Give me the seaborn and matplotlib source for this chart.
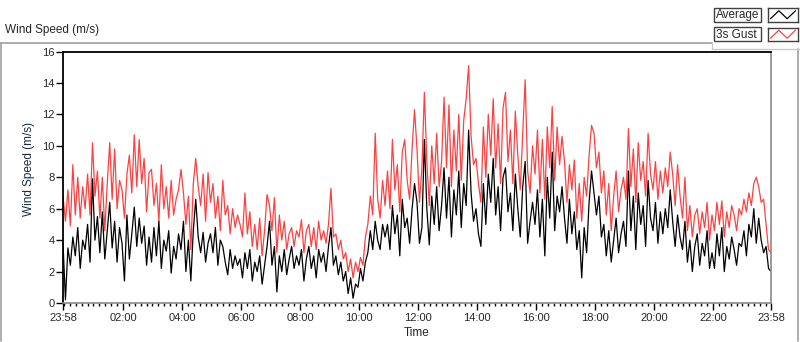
import pandas as pd
import matplotlib
matplotlib.use("Agg")
import matplotlib.pyplot as plt
import matplotlib.dates as mdates
from matplotlib.ticker import FixedLocator
from matplotlib.lines import Line2D
from matplotlib.patches import Rectangle
import seaborn as sns

# 5-minute samples from 23:58 to 23:58 next day
avg_speed = [
    3.8, 0.2, 3.5, 2.4, 4.2, 3.0, 4.8, 2.2, 4.0, 3.4, 5.0, 2.6,
    7.9, 4.0, 5.5, 3.2, 5.8, 2.8, 4.6, 6.4, 3.5, 5.2, 2.6, 4.8,
    3.8, 1.4, 5.6, 2.8, 4.4, 6.1, 3.6, 5.4, 3.8, 4.9, 2.4, 4.2,
    2.6, 4.8, 3.0, 5.2, 2.2, 4.0, 3.3, 4.6, 1.9, 3.6, 2.8, 4.4,
    3.4, 5.2, 2.0, 4.0, 1.4, 4.6, 6.6, 4.2, 3.2, 4.5, 2.6, 3.8,
    4.4, 3.2, 4.8, 2.4, 4.0, 3.6, 2.6, 1.8, 3.4, 2.2, 3.0, 2.4,
    2.8, 1.6, 3.2, 2.2, 3.4, 1.4, 2.6, 2.0, 3.0, 1.2, 2.4, 3.6,
    5.2, 2.4, 3.6, 0.7, 3.0, 2.0, 3.4, 1.8, 2.8, 3.6, 2.2, 3.0,
    2.4, 3.4, 1.4, 2.8, 3.6, 2.2, 3.0, 1.6, 3.4, 2.6, 3.2, 2.0,
    3.6, 4.8, 2.4, 3.0, 1.8, 2.6, 1.4, 2.0, 0.6, 1.6, 0.3, 1.2,
    1.0, 2.2, 1.4, 2.6, 3.2, 4.6, 3.4, 5.2, 4.0, 3.4, 5.0, 4.2,
    5.0, 3.4, 6.2, 4.4, 5.6, 3.0, 6.6, 4.8, 5.4, 3.8, 6.0, 7.6,
    6.4, 3.8, 4.8, 10.4, 6.0, 3.7, 6.8, 5.0, 7.4, 4.6, 6.2, 8.6,
    5.4, 8.0, 4.2, 7.2, 5.6, 8.4, 4.8, 7.6, 6.2, 11.0, 7.0, 5.2,
    6.0, 4.4, 3.6, 7.6, 5.0, 8.2, 6.4, 9.2, 5.6, 7.4, 4.6, 8.0,
    8.6, 5.8, 7.0, 4.6, 8.2, 6.0, 4.2, 7.4, 9.0, 3.8, 5.2, 6.4,
    5.0, 7.2, 4.2, 6.6, 3.0, 8.0, 5.4, 9.6, 4.6, 6.8, 5.8, 7.4,
    5.4, 3.8, 6.6, 4.4, 5.8, 3.4, 4.6, 1.6, 4.8, 3.2, 6.4, 8.4,
    7.0, 5.6, 6.8, 4.2, 5.0, 3.0, 4.6, 2.6, 4.0, 5.4, 3.2, 4.4,
    5.2, 3.6, 8.4, 4.6, 6.8, 3.4, 7.0, 5.0, 6.2, 3.6, 7.8, 5.4,
    4.6, 6.4, 3.8, 5.8, 4.4, 6.0, 4.8, 7.2, 5.2, 3.6, 5.6, 4.2,
    3.4, 5.2, 2.6, 4.0, 2.0, 3.6, 4.4, 2.4, 3.8, 3.0, 4.6, 2.2,
    3.2, 2.2, 4.4, 3.0, 4.8, 2.0, 3.6, 2.8, 4.2, 3.4, 2.4, 3.8,
    3.6, 4.6, 3.0, 5.0, 4.2, 6.0, 3.8, 5.4, 4.0, 3.2, 3.6, 2.2,
    2.0,
]
gust_speed = [
    6.8, 5.2, 7.2, 4.9, 8.8, 5.6, 8.0, 5.4, 7.4, 6.0, 8.2, 5.6,
    10.2, 6.8, 8.4, 5.4, 8.0, 4.6, 7.6, 10.2, 6.6, 9.8, 6.0, 7.8,
    7.2, 5.4, 8.2, 9.4, 7.0, 10.7, 7.4, 10.4, 7.6, 9.2, 5.8, 8.3,
    8.5, 6.2, 7.6, 5.2, 8.8, 6.0, 7.4, 5.4, 7.8, 5.6, 6.6, 7.2,
    8.5, 7.0, 5.0, 6.8, 3.4, 7.6, 9.2, 7.4, 6.2, 8.2, 5.2, 8.3,
    6.4, 7.6, 5.4, 6.8, 4.6, 7.8, 5.6, 6.2, 4.4, 6.0, 4.8, 5.6,
    5.0, 4.2, 7.0, 4.4, 5.8, 3.6, 5.0, 3.4, 5.4, 3.0, 4.6, 6.9,
    6.2, 4.6, 6.7, 3.2, 5.6, 4.0, 5.2, 3.4, 4.4, 4.8, 3.6, 4.6,
    4.2, 5.3, 3.2, 4.6, 5.0, 3.6, 4.8, 3.4, 5.2, 4.0, 4.6, 3.8,
    5.0, 7.3, 4.2, 4.4, 3.4, 4.0, 2.8, 3.2, 2.0, 2.8, 1.6, 2.6,
    2.0, 2.9, 2.4, 4.2, 5.0, 6.8, 5.6, 10.8, 6.6, 5.4, 7.8, 6.2,
    8.4, 6.0, 10.4, 7.2, 8.8, 5.8, 9.6, 10.4, 7.8, 6.6, 9.8, 12.3,
    9.8, 6.4, 8.6, 13.4, 9.0, 6.2, 10.0, 7.6, 10.8, 7.4, 9.0, 13.1,
    8.6, 12.6, 7.4, 11.0, 8.4, 12.0, 7.8, 11.6, 13.0, 15.1, 10.6, 8.8,
    9.2, 7.6, 6.4, 11.2, 8.0, 12.0, 9.4, 13.0, 8.6, 11.4, 7.6, 12.4,
    13.4, 9.0, 11.0, 7.6, 12.2, 9.4, 7.2, 10.8, 14.2, 8.4, 7.0, 10.0,
    8.2, 11.0, 7.0, 10.4, 6.6, 11.2, 8.6, 12.5, 7.8, 11.2, 8.8, 10.6,
    9.0, 6.4, 8.8, 7.2, 9.1, 5.4, 7.6, 5.2, 8.0, 6.8, 9.4, 11.3,
    10.8, 8.6, 9.6, 7.0, 8.4, 5.6, 7.6, 4.6, 6.8, 8.4, 5.8, 7.2,
    8.0, 6.6, 11.1, 7.4, 9.8, 6.4, 10.2, 7.8, 9.0, 6.8, 10.8, 8.2,
    7.2, 9.0, 6.6, 8.4, 7.0, 8.6, 7.4, 9.6, 8.2, 6.2, 8.8, 6.8,
    5.4, 8.0, 4.6, 6.2, 4.2, 5.6, 6.0, 4.4, 5.8, 4.8, 6.4, 4.0,
    5.6, 4.6, 6.4, 5.0, 6.5, 4.2, 5.8, 4.8, 6.2, 5.6, 4.6, 6.0,
    5.6, 6.6, 5.8, 7.0, 6.2, 7.6, 8.0, 7.4, 6.4, 6.6, 5.0, 3.4,
    3.2,
]
y_ticks = [0, 2, 4, 6, 8, 10, 12, 14, 16]
series_names = ["Average", "3s Gust"]
series_colors = ["black", "#ff4040"]

W, H = 800, 342


def fx(x):
    return x / W


def fy(y):
    return 1 - y / H


times = pd.date_range("2015-06-01 23:58", periods=len(avg_speed), freq="5min")
df = pd.DataFrame({"Time": times, "Average": avg_speed, "3s Gust": gust_speed})
tick_times = [times[0]] + list(pd.date_range("2015-06-02 02:00", periods=11, freq="2h")) + [times[-1]]

sns.set_style("white")
plt.rcParams["font.family"] = ["Liberation Sans", "DejaVu Sans"]
plt.rcParams["font.size"] = 8

fig = plt.figure(figsize=(8, 3.42), dpi=100)
ax = fig.add_axes([fx(63), fy(303), fx(771) - fx(63), fy(51.5) - fy(303)])

sns.lineplot(data=df, x="Time", y="3s Gust", color=series_colors[1], lw=0.9, ax=ax)
sns.lineplot(data=df, x="Time", y="Average", color=series_colors[0], lw=0.9, ax=ax)

ax.set_xlim(times[0], times[-1])
ax.set_ylim(0, 16)
ax.set_yticks(y_ticks)
ax.xaxis.set_major_locator(FixedLocator(mdates.date2num(tick_times)))
ax.xaxis.set_major_formatter(mdates.DateFormatter("%H:%M"))
ax.xaxis.set_minor_locator(mdates.MinuteLocator(byminute=range(0, 60, 12)))
ax.tick_params(axis="x", which="major", length=5, width=1, pad=2, bottom=True, color="black")
ax.tick_params(axis="x", which="minor", length=2.5, width=1, bottom=True, color="black")
ax.tick_params(axis="y", length=5, width=1, pad=1, left=True, color="black")

ax.set_xlabel("Time", fontsize=8.5)
ax.set_ylabel("Wind Speed (m/s)", fontsize=8.5, color="#1a2a40")
ax.xaxis.set_label_coords(0.5, (303 - 327) / 252)
ax.yaxis.set_label_coords((35 - 63) / 708, 0.534)

for side in ["top", "left"]:
    ax.spines[side].set_color("black")
    ax.spines[side].set_linewidth(1.3)
for side in ["bottom", "right"]:
    ax.spines[side].set_color("#8a8a8a")
    ax.spines[side].set_linewidth(1.2)

# outer panel frame
frame = "#a0a0a0"
fig.add_artist(Line2D([fx(0), fx(712)], [fy(42.5), fy(42.5)], color=frame, lw=1.2))
fig.add_artist(Line2D([fx(1), fx(1)], [fy(42.5), fy(341)], color=frame, lw=1.2))
fig.add_artist(Line2D([fx(798), fx(798)], [fy(49), fy(341)], color=frame, lw=1.2))
fig.add_artist(Line2D([fx(712), fx(712)], [fy(42.5), fy(49)], color="#c8c8c8", lw=1))
fig.add_artist(Line2D([fx(712), fx(800)], [fy(49), fy(49)], color="#c8c8c8", lw=1))

fig.text(fx(5), fy(30), "Wind Speed (m/s)", fontsize=8.5, va="center", ha="left")

# legend: label box + line icon box per series
for i, (name, col) in enumerate(zip(series_names, series_colors)):
    top = 8 + i * 19.5
    fig.add_artist(Rectangle((fx(714), fy(top + 13.5)), fx(761) - fx(714), fy(top) - fy(top + 13.5),
                             transform=fig.transFigure, fc="white", ec="#404040", lw=1))
    fig.text(fx(716), fy(top + 7), name, fontsize=8.5, va="center", ha="left")
    icon = fig.add_axes([fx(768), fy(top + 13.5), fx(798) - fx(768), fy(top) - fy(top + 13.5)])
    icon.plot([0, 1, 2, 3], [0, 1, 0, 1], color=col, lw=0.9)
    icon.set_xlim(-0.3, 3.3)
    icon.set_ylim(-0.35, 1.35)
    icon.set_xticks([])
    icon.set_yticks([])
    for s in icon.spines.values():
        s.set_color("#404040")
        s.set_linewidth(1)

fig.savefig("out.png", dpi=100)
